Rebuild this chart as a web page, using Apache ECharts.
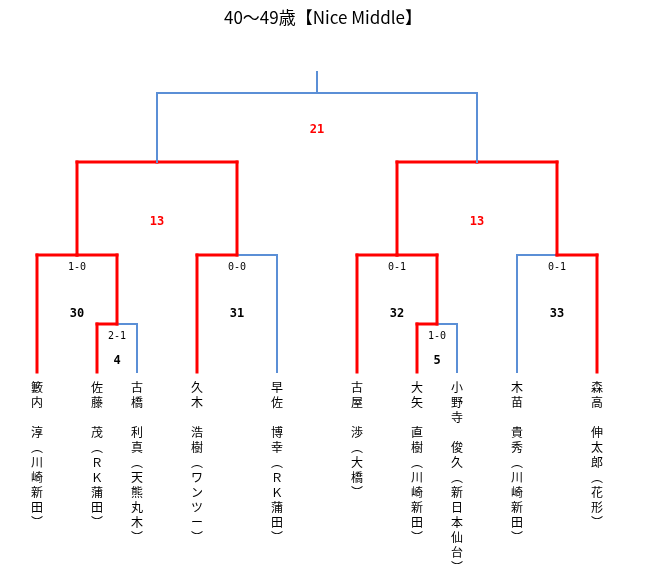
<!DOCTYPE html>
<html><head><meta charset="utf-8">
<script src="https://cdn.jsdelivr.net/npm/echarts@6/dist/echarts.min.js"></script>
<style>html,body{margin:0;padding:0;background:#fff}#chart{width:646px;height:584px}</style>
</head><body><div id="chart"></div>
<script>
// players in bracket order, slot = column on a 20px grid
var players = [
    { name: '籔内', given: '淳', club: '川崎新田', slot: 0 },
    { name: '佐藤', given: '茂', club: 'ＲＫ蒲田', slot: 3 },
    { name: '古橋', given: '利真', club: '天熊丸木', slot: 5 },
    { name: '久木', given: '浩樹', club: 'ワンツー', slot: 8 },
    { name: '早佐', given: '博幸', club: 'ＲＫ蒲田', slot: 12 },
    { name: '古屋', given: '渉', club: '大橋', slot: 16 },
    { name: '大矢', given: '直樹', club: '川崎新田', slot: 19 },
    { name: '小野寺', given: '俊久', club: '新日本仙台', slot: 21 },
    { name: '木苗', given: '貴秀', club: '川崎新田', slot: 24 },
    { name: '森高', given: '伸太郎', club: '花形', slot: 28 }
];
// heights of each round line
var levels = [372, 324, 255, 162, 93, 72];
// matches: a/b = 'p#' player or 'm#' match, level index, red side flags
var matches = [
    { id: 'm4', a: 'p1', b: 'p2', lv: 1, redA: true, redB: false, score: '2-1', num: '4', numColor: '#000' },
    { id: 'm5', a: 'p6', b: 'p7', lv: 1, redA: true, redB: false, score: '1-0', num: '5', numColor: '#000' },
    { id: 'm30', a: 'p0', b: 'm4', lv: 2, redA: true, redB: true, score: '1-0', num: '30', numColor: '#000' },
    { id: 'm31', a: 'p3', b: 'p4', lv: 2, redA: true, redB: false, score: '0-0', num: '31', numColor: '#000' },
    { id: 'm32', a: 'p5', b: 'm5', lv: 2, redA: true, redB: true, score: '0-1', num: '32', numColor: '#000' },
    { id: 'm33', a: 'p8', b: 'p9', lv: 2, redA: false, redB: true, score: '0-1', num: '33', numColor: '#000' },
    { id: 'm13a', a: 'm30', b: 'm31', lv: 3, redA: true, redB: true, score: '', num: '13', numColor: '#ff0000' },
    { id: 'm13b', a: 'm32', b: 'm33', lv: 3, redA: true, redB: true, score: '', num: '13', numColor: '#ff0000' },
    { id: 'm21', a: 'm13a', b: 'm13b', lv: 4, redA: false, redB: false, score: '', num: '21', numColor: '#ff0000' }
];
var title = '40～49歳【Nice Middle】';

var RED = '#ff0000', BLUE = '#5b8fd6';
var numOffset = [0, 37, 59, 60, 37];
var nodes = {};
players.forEach(function (p, i) { nodes['p' + i] = { x: p.slot, y: levels[0] }; });
var segs = [], labels = [];
matches.forEach(function (m) {
    var A = nodes[m.a], B = nodes[m.b], y = levels[m.lv], mid = (A.x + B.x) / 2;
    segs.push([A.x, A.y, A.x, y, m.redA]);
    segs.push([B.x, B.y, B.x, y, m.redB]);
    segs.push([A.x, y, mid, y, m.redA]);
    segs.push([mid, y, B.x, y, m.redB]);
    nodes[m.id] = { x: mid, y: y };
    if (m.score) labels.push([mid, y + 12, m.score, '#000', 10, 'normal']);
    labels.push([mid, y + numOffset[m.lv], m.num, m.numColor, 12, 'bold']);
});
var fin = nodes['m21'];
segs.push([fin.x, fin.y, fin.x, levels[5], false]);

function vert(p) {
    return p.name.split('').join('\n') + '\n\n' + p.given.split('').join('\n') + '\n︵\n' + p.club.split('').join('\n') + '\n︶';
}

var chart = echarts.init(document.getElementById('chart'));
chart.setOption({
    animation: false,
    title: { text: title, left: 'center', top: 4, textStyle: { fontSize: 17, fontWeight: 'normal', color: '#000', fontFamily: 'Noto Sans CJK JP' } },
    grid: { left: 0, right: 0, top: 0, bottom: 0 },
    xAxis: { type: 'value', min: -1.85, max: 30.45, show: false },
    yAxis: { type: 'value', min: 0, max: 584, inverse: true, show: false },
    series: [{
        type: 'custom',
        data: segs,
        renderItem: function (params, api) {
            var p1 = api.coord([api.value(0), api.value(1)]);
            var p2 = api.coord([api.value(2), api.value(3)]);
            var red = segs[params.dataIndex][4];
            return { type: 'line', shape: { x1: p1[0], y1: p1[1], x2: p2[0], y2: p2[1] },
                style: { stroke: red ? RED : BLUE, lineWidth: red ? 3 : 2, lineCap: 'square' } };
        }
    }, {
        type: 'custom',
        data: labels,
        renderItem: function (params, api) {
            var l = labels[params.dataIndex];
            var p = api.coord([l[0], l[1]]);
            return { type: 'text', x: p[0], y: p[1],
                style: { text: l[2], fill: l[3], fontSize: l[4], fontWeight: l[5], align: 'center', verticalAlign: 'middle', fontFamily: 'DejaVu Sans Mono' } };
        }
    }, {
        type: 'custom',
        data: players.map(function (p) { return [p.slot, 380]; }),
        renderItem: function (params, api) {
            var p = api.coord([api.value(0), api.value(1)]);
            return { type: 'text', x: p[0], y: p[1],
                style: { text: vert(players[params.dataIndex]), fill: '#000', fontSize: 12, lineHeight: 15, align: 'center', verticalAlign: 'top', fontFamily: 'Noto Sans CJK JP' } };
        }
    }]
});
</script></body></html>
